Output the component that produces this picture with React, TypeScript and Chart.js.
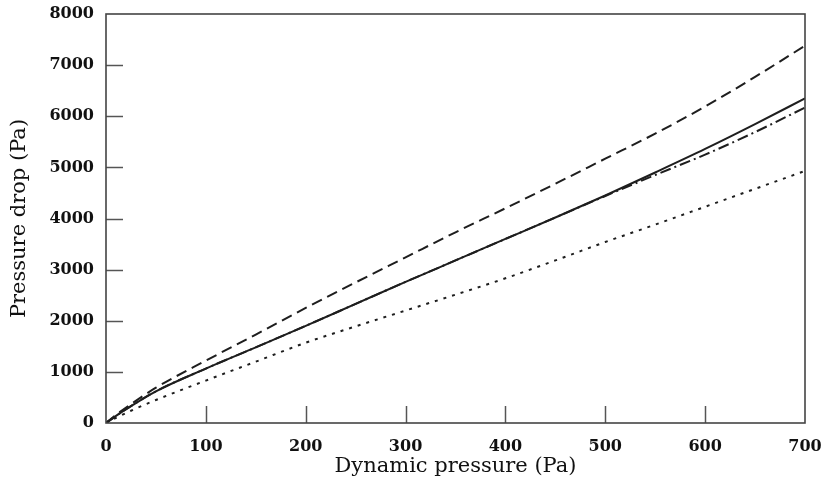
import React, { useEffect, useRef } from "react";
import { Chart, registerables } from "chart.js";

Chart.register(...registerables);

const dynamicPressure = [0, 10, 25, 50, 100, 150, 200, 250, 300, 350, 400, 450, 500, 550, 600, 650, 700];
const dashedSeries = [0, 160, 370, 690, 1220, 1730, 2250, 2750, 3240, 3730, 4200, 4680, 5170, 5660, 6190, 6770, 7380];
const solidSeries = [0, 140, 330, 620, 1065, 1480, 1900, 2330, 2760, 3180, 3600, 4020, 4450, 4900, 5360, 5845, 6350];
const dashDotSeries = [0, 140, 330, 620, 1065, 1480, 1900, 2330, 2760, 3180, 3600, 4020, 4440, 4850, 5250, 5690, 6170];
const dottedSeries = [0, 100, 240, 450, 830, 1200, 1570, 1890, 2200, 2510, 2830, 3180, 3540, 3880, 4230, 4580, 4930];

const xTicks = [0, 100, 200, 300, 400, 500, 600, 700];
const yTicks = [0, 1000, 2000, 3000, 4000, 5000, 6000, 7000, 8000];

const toPoints = (ys: number[]) => dynamicPressure.map((x, i) => ({ x, y: ys[i] }));

const boxPlugin = {
  id: "boxAndInnerTicks",
  afterDatasetsDraw(chart: any) {
    const { ctx, chartArea } = chart;
    const xs = chart.scales.x;
    const ys = chart.scales.y;
    ctx.save();
    ctx.strokeStyle = "#555";
    ctx.lineWidth = 1.5;
    const tl = 17;
    xTicks.slice(1, -1).forEach((v) => {
      const px = Math.round(xs.getPixelForValue(v)) + 0.5;
      ctx.beginPath();
      ctx.moveTo(px, chartArea.bottom);
      ctx.lineTo(px, chartArea.bottom - tl);
      ctx.stroke();
    });
    yTicks.slice(1, -1).forEach((v) => {
      const py = Math.round(ys.getPixelForValue(v)) + 0.5;
      ctx.beginPath();
      ctx.moveTo(chartArea.left, py);
      ctx.lineTo(chartArea.left + tl, py);
      ctx.stroke();
    });
    ctx.strokeStyle = "#444";
    ctx.lineWidth = 1.6;
    ctx.strokeRect(chartArea.left, chartArea.top, chartArea.right - chartArea.left, chartArea.bottom - chartArea.top);
    ctx.restore();
  },
};

export default function App() {
  const ref = useRef<HTMLCanvasElement | null>(null);
  useEffect(() => {
    if (!ref.current) return;
    const lineBase = {
      borderColor: "#1e1e1e",
      borderWidth: 2,
      pointRadius: 0,
      cubicInterpolationMode: "monotone" as const,
      fill: false,
    };
    const chart = new Chart(ref.current, {
      type: "line",
      data: {
        datasets: [
          { ...lineBase, label: "Dashed", data: toPoints(dashedSeries), borderDash: [11, 6] },
          { ...lineBase, label: "Dash-dot", data: toPoints(dashDotSeries), borderDash: [11, 4, 2, 4] },
          { ...lineBase, label: "Solid", data: toPoints(solidSeries) },
          { ...lineBase, label: "Dotted", data: toPoints(dottedSeries), borderDash: [3, 6] },
        ],
      },
      plugins: [boxPlugin],
      options: {
        animation: false,
        responsive: true,
        maintainAspectRatio: false,
        layout: { padding: { top: 14, right: 18, left: 0, bottom: 0 }, autoPadding: false } as any,
        plugins: { legend: { display: false }, tooltip: { enabled: false } },
        scales: {
          x: {
            type: "linear",
            min: 0,
            max: 700,
            afterFit: (s: any) => { s.height = 70; s.paddingLeft = 0; s.paddingRight = 0; },
            afterBuildTicks: (s: any) => { s.ticks = xTicks.map((v) => ({ value: v })); },
            grid: { display: false },
            border: { display: false },
            ticks: {
              color: "#111",
              padding: 6,
              maxRotation: 0,
              callback: (v: any) => String(v),
              font: { family: "'DejaVu Serif', serif", size: 16, weight: "bold" },
            },
            title: {
              display: true,
              text: "Dynamic pressure (Pa)",
              color: "#111",
              padding: { top: 4, bottom: 14 },
              font: { family: "'DejaVu Serif', serif", size: 21 },
            },
          },
          y: {
            type: "linear",
            min: 0,
            max: 8000,
            afterFit: (s: any) => { s.width = 106; s.paddingTop = 0; s.paddingBottom = 0; },
            afterBuildTicks: (s: any) => { s.ticks = yTicks.map((v) => ({ value: v })); },
            grid: { display: false },
            border: { display: false },
            ticks: {
              color: "#111",
              padding: 4,
              callback: (v: any) => String(v),
              font: { family: "'DejaVu Serif', serif", size: 16, weight: "bold" },
            },
            title: {
              display: true,
              text: "Pressure drop (Pa)",
              color: "#111",
              padding: { top: 7, bottom: 4 },
              font: { family: "'DejaVu Serif', serif", size: 21 },
            },
          },
        },
      },
    });
    return () => chart.destroy();
  }, []);
  return (
    <div style={{ position: "absolute", left: 0, top: 0, width: 823, height: 493 }}>
      <canvas ref={ref} />
    </div>
  );
}
